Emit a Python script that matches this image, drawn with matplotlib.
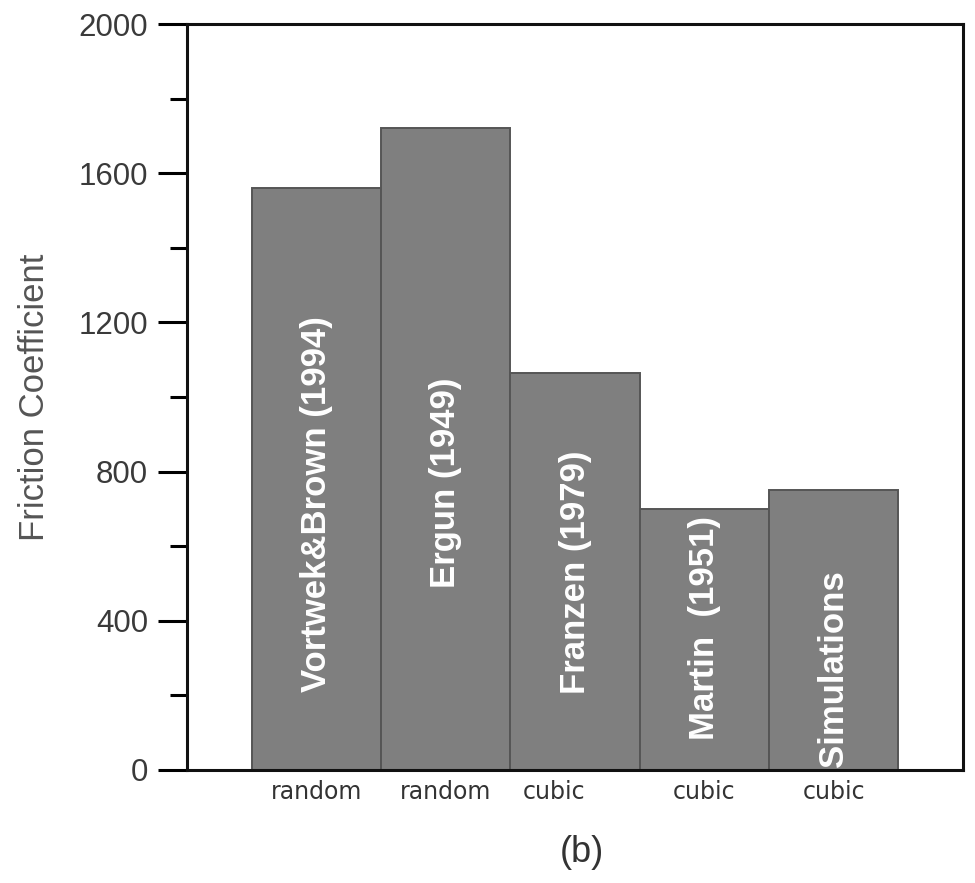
import matplotlib
matplotlib.use('Agg')
import matplotlib.pyplot as plt
from matplotlib.ticker import MultipleLocator

# Friction coefficient by correlation / packing arrangement
names = ['Vortwek&Brown (1994)', 'Ergun (1949)', 'Franzen (1979)', 'Martin  (1951)', 'Simulations']
packing = ['random', 'random', 'cubic', 'cubic', 'cubic']
friction = [1560, 1720, 1065, 700, 750]
name_y = [713, 769, 531, 381, 273]

plt.rcParams['font.family'] = ['Liberation Sans', 'DejaVu Sans']

fig = plt.figure(figsize=(9.75, 8.83), dpi=100)
ax = fig.add_axes([0.1918, 0.128, 0.7959, 0.8448])

pos = list(range(1, len(friction) + 1))
ax.bar(pos, friction, width=1.0, color='#7f7f7f', edgecolor='#555555', linewidth=1.4)

for x, y, txt in zip(pos, name_y, names):
    ax.text(x, y, txt, rotation=90, ha='center', va='center',
            color='white', fontsize=25, fontweight='bold')

# packing labels under the bars (no tick marks on x)
shift = [0, 0, -0.16, 0, 0]
for x, dx, lab in zip(pos, shift, packing):
    ax.text(x + dx, -0.03, lab, transform=ax.get_xaxis_transform(),
            ha='center', va='center', fontsize=17, color='#333333',
            family='DejaVu Sans')

ax.set_xlim(0, 6)
ax.set_ylim(0, 2000)
ax.set_xticks([])
ax.yaxis.set_major_locator(MultipleLocator(400))
ax.yaxis.set_minor_locator(MultipleLocator(200))
ax.tick_params(axis='y', which='major', direction='out', length=21, width=2.2,
               pad=7, labelsize=22.5, labelcolor='#3a3a3a')
ax.tick_params(axis='y', which='minor', direction='out', length=12, width=2.2)

for sp in ax.spines.values():
    sp.set_linewidth(2.2)
    sp.set_color('#111111')

ax.set_ylabel('Friction Coefficient', fontsize=25, color='#555555', labelpad=20)

fig.text(0.597, 0.034, '(b)', ha='center', va='center', fontsize=26, color='#333333')

fig.savefig('out.png', dpi=100)
